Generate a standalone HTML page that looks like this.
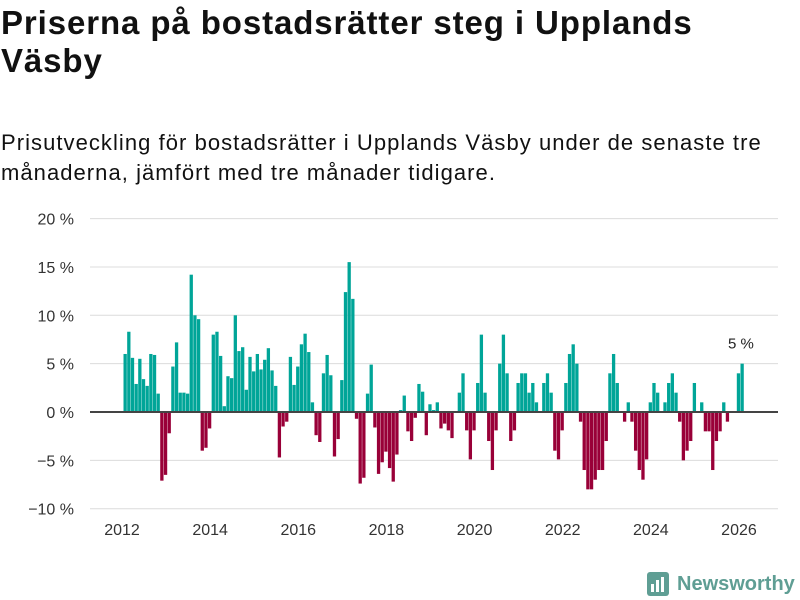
<!DOCTYPE html>
<html><head><meta charset="utf-8"><style>
body{margin:0;width:800px;height:600px;background:#fff;font-family:"Liberation Sans",sans-serif;color:#111;position:relative;overflow:hidden}
h1{position:absolute;left:1px;top:4px;margin:0;font-size:33px;line-height:38px;font-weight:bold;letter-spacing:0.9px;width:795px;white-space:nowrap}
p{position:absolute;left:1px;top:128px;margin:0;font-size:22px;line-height:30px;letter-spacing:1.05px;width:795px;white-space:nowrap}
svg{position:absolute;left:0;top:0}
</style></head><body>
<h1>Priserna på bostadsrätter steg i Upplands<br>Väsby</h1>
<p>Prisutveckling för bostadsrätter i Upplands Väsby under de senaste tre<br>månaderna, jämfört med tre månader tidigare.</p>
<svg id="chart" width="800" height="600"></svg>
<svg width="800" height="600" style="pointer-events:none">
<g style="pointer-events:auto">
<rect x="647" y="572" width="22" height="24" rx="3" fill="#5f9e94"/>
<rect x="651" y="584" width="3" height="8" fill="#fff"/><rect x="656" y="580" width="3" height="12" fill="#fff"/><rect x="661" y="577" width="3" height="15" fill="#fff"/>
<text x="677" y="590" font-size="20" font-weight="bold" fill="#5f9e94" font-family="Liberation Sans, sans-serif">Newsworthy</text>
</g></svg>
<script>
const startYear = 2012;
const values = [6.0,8.3,5.6,2.9,5.5,3.4,2.7,6.0,5.9,1.9,-7.1,-6.5,
-2.2,4.7,7.2,2.0,2.0,1.9,14.2,10.0,9.6,-4.0,-3.7,-1.7,
8.0,8.3,5.8,0.6,3.7,3.5,10.0,6.3,6.7,2.3,5.7,4.2,
6.0,4.4,5.4,6.6,4.3,2.7,-4.7,-1.5,-1.0,5.7,2.8,4.7,
7.0,8.1,6.2,1.0,-2.4,-3.1,4.0,5.9,3.8,-4.6,-2.8,3.3,
12.4,15.5,11.7,-0.7,-7.4,-6.8,1.9,4.9,-1.6,-6.4,-5.2,-4.1,
-5.8,-7.2,-4.4,0.2,1.7,-2.0,-3.0,-0.6,2.9,2.1,-2.4,0.8,
0.2,1.0,-1.7,-1.2,-1.9,-2.7,0,2.0,4.0,-1.9,-4.9,-1.9,
3.0,8.0,2.0,-3.0,-6.0,-1.9,5.0,8.0,4.0,-3.0,-1.9,3.0,
4.0,4.0,2.0,3.0,1.0,0,3.0,4.0,2.0,-4.0,-4.9,-1.9,
3.0,6.0,7.0,5.0,-1.0,-6.0,-8.0,-8.0,-7.0,-6.0,-6.0,-3.0,
4.0,6.0,3.0,0,-1.0,1.0,-1.0,-4.0,-6.0,-7.0,-4.9,1.0,
3.0,2.0,0,1.0,3.0,4.0,2.0,-1.0,-5.0,-4.0,-3.0,3.0,
0,1.0,-2.0,-2.0,-6.0,-3.0,-2.0,1.0,-1.0,0,0,4.0,5.0];
const yTicks = [20,15,10,5,0,-5,-10];
const yTickLabels = ["20 %","15 %","10 %","5 %","0 %","−5 %","−10 %"];
const xTicks = [2012,2014,2016,2018,2020,2022,2024,2026];
const lastLabel = "5 %";

const NS="http://www.w3.org/2000/svg";
const svg=document.getElementById('chart');
const y=v=>412-v*9.67;
const x=yr=>122+(yr-startYear)*44.07;
const xm=m=>122+m*44.07/12;
function el(t,a){const e=document.createElementNS(NS,t);for(const k in a)e.setAttribute(k,a[k]);svg.appendChild(e);return e;}
yTicks.forEach((t,i)=>{
 const g=el('line',{x1:90,x2:778,y1:y(t),y2:y(t),stroke:'#dcdcdc','stroke-width':1});
 
 
 const tx=el('text',{x:74,y:y(t)+6,'text-anchor':'end','font-size':16,fill:'#333'});
 tx.textContent=yTickLabels[i];
 
 
});
xTicks.forEach(t=>{
 const tx=el('text',{x:x(t),y:535,'text-anchor':'middle','font-size':16,fill:'#333'});
 tx.textContent=t;
 
 
});
values.forEach((v,m)=>{
 if(v===0)return;
 const r=el('rect',{x:xm(m)+1.5,width:3.3,y:Math.min(y(v),y(0)),height:Math.abs(y(v)-y(0)),fill:v>0?'#00a598':'#990038'});
 
 
});
const zl=el('line',{x1:90,x2:778,y1:y(0),y2:y(0),stroke:'#444','stroke-width':2});


const lm=values.length-1;
const lb=el('text',{x:xm(lm)+2,y:y(values[lm])-15,'text-anchor':'middle','font-size':15,fill:'#222'});
lb.textContent=lastLabel;


</script>
</body></html>
